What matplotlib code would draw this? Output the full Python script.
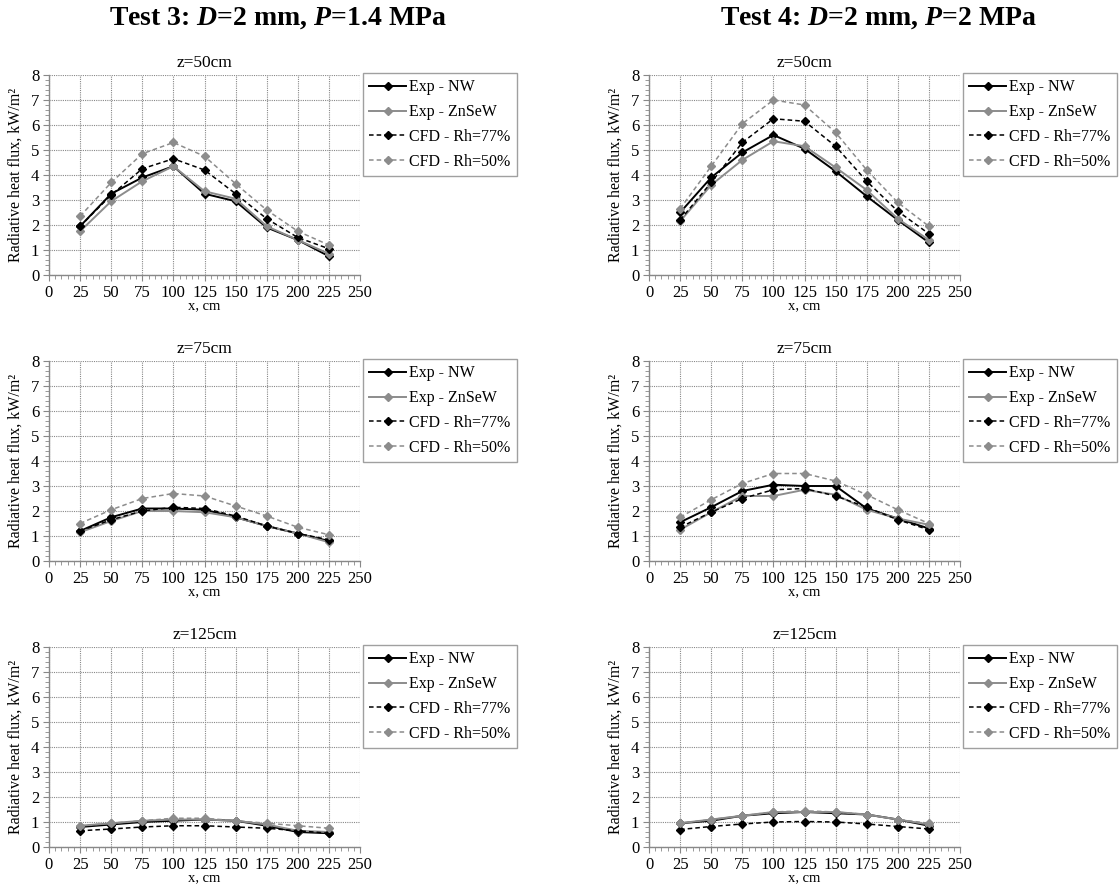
import numpy as np
import matplotlib
matplotlib.use("Agg")
import matplotlib.pyplot as plt
from matplotlib.ticker import MultipleLocator

plt.rcParams['font.family'] = ['Liberation Serif', 'DejaVu Serif']
plt.rcParams['mathtext.fontset'] = 'custom'
plt.rcParams['mathtext.rm'] = 'Liberation Serif'
plt.rcParams['mathtext.it'] = 'Liberation Serif:italic:bold'
plt.rcParams['mathtext.bf'] = 'Liberation Serif:bold'

x = [25, 50, 75, 100, 125, 150, 175, 200, 225]
series_names = ["Exp - NW", "Exp - ZnSeW", "CFD - Rh=77%", "CFD - Rh=50%"]
z_labels = ["z=50cm", "z=75cm", "z=125cm"]
headers = [r"Test 3: $\mathit{D}$=2 mm, $\mathit{P}$=1.4 MPa",
           r"Test 4: $\mathit{D}$=2 mm, $\mathit{P}$=2 MPa"]

# Test 3
t3_z50_nw = [1.95, 3.25, 3.9, 4.35, 3.25, 2.95, 1.9, 1.4, 0.75]
t3_z50_zn = [1.75, 2.95, 3.75, 4.35, 3.35, 3.05, 1.95, 1.4, 0.85]
t3_z50_c77 = [1.95, 3.2, 4.25, 4.65, 4.2, 3.25, 2.25, 1.5, 1.05]
t3_z50_c50 = [2.35, 3.7, 4.85, 5.3, 4.75, 3.65, 2.6, 1.75, 1.2]

t3_z75_nw = [1.2, 1.75, 2.1, 2.1, 2.05, 1.75, 1.4, 1.1, 0.8]
t3_z75_zn = [1.15, 1.6, 2.0, 2.0, 1.95, 1.75, 1.4, 1.1, 0.75]
t3_z75_c77 = [1.2, 1.65, 2.0, 2.15, 2.1, 1.8, 1.4, 1.1, 0.85]
t3_z75_c50 = [1.5, 2.05, 2.5, 2.7, 2.6, 2.2, 1.8, 1.35, 1.05]

t3_z125_nw = [0.8, 0.9, 1.0, 1.05, 1.1, 1.05, 0.85, 0.6, 0.55]
t3_z125_zn = [0.85, 0.95, 1.05, 1.1, 1.1, 1.05, 0.9, 0.65, 0.6]
t3_z125_c77 = [0.65, 0.72, 0.8, 0.85, 0.85, 0.8, 0.75, 0.65, 0.55]
t3_z125_c50 = [0.85, 0.95, 1.05, 1.15, 1.15, 1.05, 0.95, 0.85, 0.75]

# Test 4
t4_z50_nw = [2.5, 3.9, 4.9, 5.6, 5.05, 4.15, 3.15, 2.2, 1.3]
t4_z50_zn = [2.15, 3.6, 4.6, 5.35, 5.15, 4.3, 3.4, 2.25, 1.4]
t4_z50_c77 = [2.2, 3.7, 5.3, 6.25, 6.15, 5.15, 3.75, 2.55, 1.65]
t4_z50_c50 = [2.65, 4.35, 6.05, 7.0, 6.8, 5.7, 4.2, 2.9, 1.95]

t4_z75_nw = [1.55, 2.15, 2.8, 3.05, 3.0, 3.0, 2.1, 1.7, 1.3]
t4_z75_zn = [1.25, 1.95, 2.6, 2.6, 2.85, 2.65, 2.05, 1.7, 1.45]
t4_z75_c77 = [1.35, 1.95, 2.5, 2.85, 2.9, 2.6, 2.15, 1.65, 1.25]
t4_z75_c50 = [1.75, 2.45, 3.1, 3.5, 3.5, 3.2, 2.65, 2.05, 1.5]

t4_z125_nw = [0.95, 1.05, 1.25, 1.35, 1.4, 1.35, 1.3, 1.1, 0.85]
t4_z125_zn = [0.95, 1.1, 1.25, 1.4, 1.4, 1.4, 1.3, 1.1, 0.9]
t4_z125_c77 = [0.7, 0.82, 0.92, 1.0, 1.02, 1.0, 0.92, 0.82, 0.72]
t4_z125_c50 = [0.95, 1.1, 1.25, 1.4, 1.45, 1.4, 1.3, 1.1, 0.95]

panels = [
    [(t3_z50_nw, t3_z50_zn, t3_z50_c77, t3_z50_c50),
     (t3_z75_nw, t3_z75_zn, t3_z75_c77, t3_z75_c50),
     (t3_z125_nw, t3_z125_zn, t3_z125_c77, t3_z125_c50)],
    [(t4_z50_nw, t4_z50_zn, t4_z50_c77, t4_z50_c50),
     (t4_z75_nw, t4_z75_zn, t4_z75_c77, t4_z75_c50),
     (t4_z125_nw, t4_z125_zn, t4_z125_c77, t4_z125_c50)],
]

black = '#000000'
grey = '#8c8c8c'
styles = [
    dict(color=black, ls='-', lw=1.4),
    dict(color=grey, ls='-', lw=1.4),
    dict(color=black, ls=(0, (3, 2)), lw=1.1),
    dict(color=grey, ls=(0, (3, 2)), lw=1.1),
]

W, H = 1119, 894
fig = plt.figure(figsize=(W / 100, H / 100), dpi=100)

col_x = [49, 649]
ax_w = 311
row_top = [75, 361, 647]
ax_h = 200

for c in range(2):
    fig.text((col_x[c] + 229) / W, 1 - 18 / H, headers[c], ha='center', va='center',
             fontsize=20, fontweight='bold')
    for r in range(3):
        left = col_x[c] / W
        bottom = 1 - (row_top[r] + ax_h) / H
        ax = fig.add_axes([left, bottom, ax_w / W, ax_h / H])
        data = panels[c][r]
        for vals, name, st in zip(data, series_names, styles):
            ax.plot(x, vals, marker='D', ms=4.2, mfc=st['color'], mec=st['color'],
                    label=name, **st)
        ax.set_xlim(0, 250)
        ax.set_ylim(0, 8)
        ax.xaxis.set_major_locator(MultipleLocator(25))
        ax.xaxis.set_minor_locator(MultipleLocator(5))
        ax.yaxis.set_major_locator(MultipleLocator(1))
        ax.yaxis.set_minor_locator(MultipleLocator(0.2))
        ax.grid(True, which='major', color='#888888', ls=(0, (1, 1)), lw=0.8)
        ax.set_axisbelow(True)
        for s in ['top', 'right']:
            ax.spines[s].set_visible(False)
        for s in ['left', 'bottom']:
            ax.spines[s].set_color('#888888')
            ax.spines[s].set_linewidth(1.0)
        ax.tick_params(which='major', length=4, color='#888888', labelsize=12, pad=3)
        ax.tick_params(which='minor', length=3, color='#888888')
        for lab in ax.get_xticklabels() + ax.get_yticklabels():
            lab.set_family('Liberation Serif')
        ax.set_title(z_labels[r], fontsize=12.5, pad=6)
        ax.set_xlabel("x, cm", fontsize=10.5, labelpad=-1)
        ax.set_ylabel("Radiative heat flux, kW/m²", fontsize=11.5, labelpad=5)
        leg = ax.legend(loc='upper left', bbox_to_anchor=(1.01, 1.01), fontsize=11.5,
                        frameon=True, fancybox=False, handlelength=2.3, handletextpad=0.2,
                        borderpad=0.4, labelspacing=0.55, borderaxespad=0)
        leg.get_frame().set_edgecolor('#888888')
        leg.get_frame().set_linewidth(1.0)

fig.savefig("out.png", dpi=100)
